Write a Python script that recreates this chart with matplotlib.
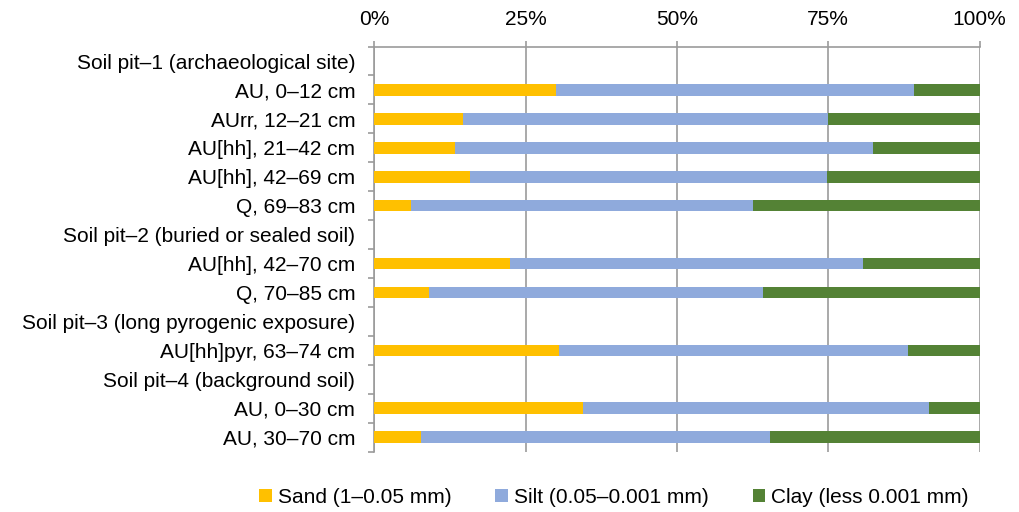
import numpy as np
import matplotlib.pyplot as plt
from matplotlib.ticker import FixedLocator, PercentFormatter

plt.rcParams['font.family'] = ['Liberation Sans', 'DejaVu Sans']

# rows top to bottom; header rows carry no bars
labels = ['Soil pit\u20131 (archaeological site)',
          'AU, 0\u201312 cm', 'AUrr, 12\u201321 cm', 'AU[hh], 21\u201342 cm',
          'AU[hh], 42\u201369 cm', 'Q, 69\u201383 cm',
          'Soil pit\u20132 (buried or sealed soil)',
          'AU[hh], 42\u201370 cm', 'Q, 70\u201385 cm',
          'Soil pit\u20133 (long pyrogenic exposure)',
          'AU[hh]pyr, 63\u201374 cm',
          'Soil pit\u20134 (background soil)',
          'AU, 0\u201330 cm', 'AU, 30\u201370 cm']
sand = [0, 30.0, 14.6, 13.4, 15.8, 6.0, 0, 22.4, 9.1, 0, 30.5, 0, 34.5, 7.8]
silt = [0, 59.1, 60.4, 69.0, 59.0, 56.5, 0, 58.3, 55.2, 0, 57.6, 0, 57.2, 57.6]
clay = [0, 10.9, 25.0, 17.6, 25.2, 37.5, 0, 19.3, 35.7, 0, 11.9, 0, 8.3, 34.6]
series_names = ['Sand (1\u20130.05 mm)', 'Silt (0.05\u20130.001 mm)', 'Clay (less 0.001 mm)']
colors = ['#FFC000', '#8FAADC', '#548235']

fig = plt.figure(figsize=(10.19, 5.12), dpi=100)
ax = fig.add_axes([0.3673, 0.1178, 0.594, 0.7913])

y = np.arange(len(labels))
left = np.zeros(len(labels))
for vals, name, c in zip([sand, silt, clay], series_names, colors):
    v = np.array(vals)
    ax.barh(y, v, left=left, height=0.4, color=c, label=name, zorder=3)
    left += v

ax.set_xlim(0, 100)
ax.set_ylim(len(labels) - 0.5, -0.5)
ax.set_xticks([0, 25, 50, 75, 100])
ax.xaxis.set_major_formatter(PercentFormatter(decimals=0))
ax.xaxis.tick_top()
ax.grid(axis='x', color='#9B9B9B', linewidth=1.2, zorder=0)
ax.tick_params(axis='x', colors='#9B9B9B', labelcolor='black', labelsize=15,
               length=4.3, width=1.2, pad=8)

ax.set_yticks(y)
ax.set_yticklabels(labels)
ax.yaxis.set_minor_locator(FixedLocator(np.arange(-0.5, len(labels) + 0.5, 1)))
ax.tick_params(axis='y', which='major', length=0, labelsize=15, pad=13.7)
ax.tick_params(axis='y', which='minor', length=4, width=1.2, color='#9B9B9B')

for s in ['right', 'bottom']:
    ax.spines[s].set_visible(False)
for s in ['top', 'left']:
    ax.spines[s].set_color('#9B9B9B')
    ax.spines[s].set_linewidth(1.2)

fig.legend(loc='center', bbox_to_anchor=(0.6026, 0.028), ncol=3, frameon=False,
           fontsize=15, handlelength=0.6, handleheight=0.6, handletextpad=0.3,
           columnspacing=2.1)

fig.savefig('out.png', dpi=100)
